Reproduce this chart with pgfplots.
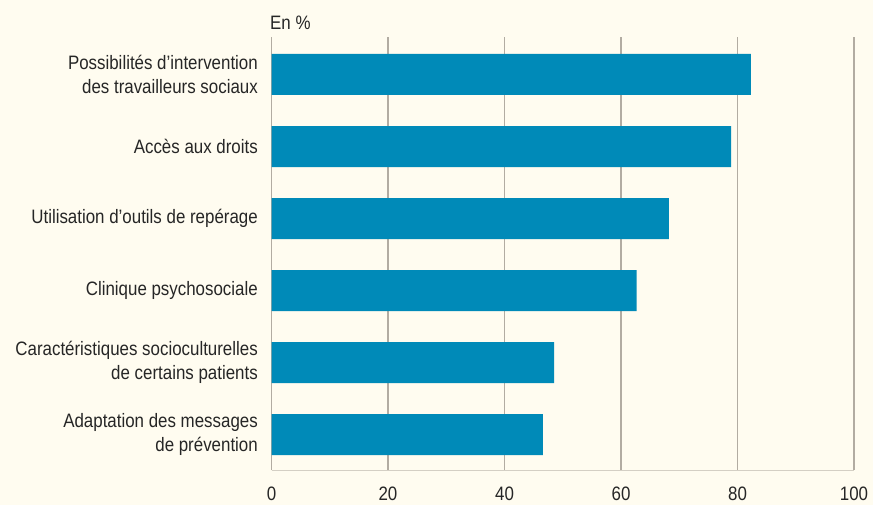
\documentclass[border=0pt]{standalone}
\usepackage{fontspec}
\setmainfont{Liberation Sans}[FakeStretch=0.87]
\usepackage{pgfplots}
\pgfplotsset{compat=1.18}
\definecolor{bg}{RGB}{255,252,240}
\definecolor{barc}{RGB}{0,138,184}
\definecolor{gridc}{RGB}{178,172,162}
\definecolor{axc}{RGB}{212,207,196}
\definecolor{txt}{RGB}{38,38,38}
\begin{document}
\begin{tikzpicture}
\fill[bg] (0,0) rectangle (873bp,505bp);
\node[anchor=base west, inner sep=0pt, text=txt, font=\fontsize{19.5}{24}\selectfont] at (270bp,475bp) {En \%};
\begin{axis}[
  at={(271.5bp,35bp)}, anchor=south west,
  scale only axis, width=582.5bp, height=433bp,
  xbar, bar width=41bp,
  xmin=0, xmax=100, ymin=-0.49, ymax=5.52,
  axis x line*=bottom, axis y line*=left,
  x axis line style={draw=axc, line width=1bp},
  y axis line style={draw=none},
  xtick={0,20,40,60,80,100},
  ytick={0,1,2,3,4,5},
  yticklabels={{Adaptation des messages\\de prévention},{Caractéristiques socioculturelles\\de certains patients},{Clinique psychosociale},{Utilisation d'outils de repérage},{Accès aux droits},{Possibilités d'intervention\\des travailleurs sociaux}},
  major tick length=0pt,
  xmajorgrids, grid style={draw=gridc, line width=1.1bp},
  /pgf/number format/assume math mode=true,
  xticklabel style={anchor=north, inner sep=0pt, yshift=-16.5bp, text=txt, font=\fontsize{19.5}{24}\selectfont},
  yticklabel style={align=right, anchor=east, inner sep=0pt, xshift=-13.5bp, text=txt, font=\fontsize{19.5}{24}\selectfont},
  clip=false,
]
\addplot[fill=barc, draw=none] coordinates {(46.6,0) (48.5,1) (62.7,2) (68.2,3) (78.9,4) (82.3,5)};
\end{axis}
\end{tikzpicture}
\end{document}
